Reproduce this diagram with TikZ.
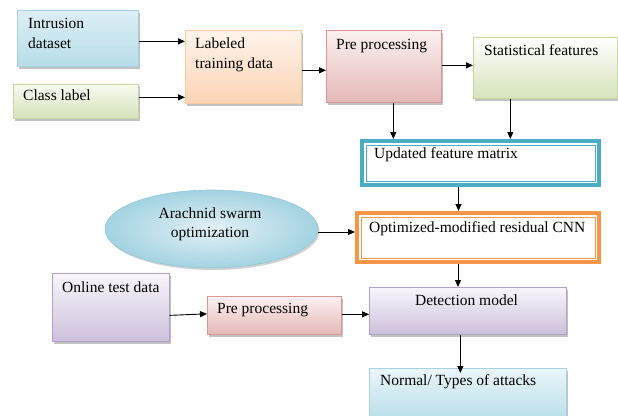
\documentclass[tikz,border=0pt]{standalone}
\usepackage{fontspec}
\setmainfont{Liberation Serif}
\usetikzlibrary{arrows.meta,shadows,shapes.geometric,calc}

% fills and borders
\definecolor{blueT}{HTML}{DDEFF5}
\definecolor{blueB}{HTML}{B6DDE8}
\definecolor{blueL}{HTML}{A5D3E1}
\definecolor{greenT}{HTML}{F7FAF0}
\definecolor{greenB}{HTML}{D6E3BC}
\definecolor{greenL}{HTML}{C4D79E}
\definecolor{peachT}{HTML}{FEF4EC}
\definecolor{peachB}{HTML}{FBD4B4}
\definecolor{peachL}{HTML}{F9C9A0}
\definecolor{roseT}{HTML}{FCF1F1}
\definecolor{roseB}{HTML}{E5B8B7}
\definecolor{roseL}{HTML}{D99694}
\definecolor{lilacT}{HTML}{F8F6FB}
\definecolor{lilacB}{HTML}{CCC0DA}
\definecolor{lilacL}{HTML}{B2A1C7}
\definecolor{tealC}{HTML}{4BACC6}
\definecolor{orangeC}{HTML}{F79646}
\definecolor{ellIn}{HTML}{E3F1F6}
\definecolor{ellOut}{HTML}{A3D3E1}
\definecolor{ellL}{HTML}{93C9D9}

\begin{document}
\begin{tikzpicture}[x=1pt, y=-1pt,
  box/.style={draw, line width=0.7pt, rectangle, inner sep=0pt, anchor=north west,
    drop shadow={shadow xshift=2pt, shadow yshift=-2.5pt, opacity=0.4, fill=black!60}},
  sz/.style 2 args={minimum width=#1pt, minimum height=#2pt},
  framed/.style={draw=#1, line width=4pt, rectangle, inner sep=0pt, anchor=north west, fill=white},
  txt/.style={anchor=base west, inner sep=0pt, font=\fontsize{15.5}{20}\selectfont},
  ctxt/.style={txt, anchor=base},
  arr/.style={line width=0.9pt, -{Triangle[length=7pt,width=6pt]}}
]
\useasboundingbox (0,0) rectangle (618,415);

% ---------- training branch ----------
\node[box, sz={121}{56}, draw=blueL, top color=blueT, bottom color=blueB] (intr) at (17,10) {};
\node[box, sz={125}{34}, draw=greenL, top color=greenT, bottom color=greenB] (cls) at (13,84) {};
\node[box, sz={116}{73}, draw=peachL, top color=peachT, bottom color=peachB] (lab) at (185,30) {};
\node[box, sz={115}{72}, draw=roseL, top color=roseT, bottom color=roseB] (pre) at (326,30) {};
\node[box, sz={144}{61}, draw=greenL, top color=white, bottom color=greenB] (stat) at (473,37) {};

\node[txt] (tintr1) at (28,28) {Intrusion};
\node[txt] (tintr2) at (28,48) {dataset};
\node[txt] (tcls) at (23,100) {Class label};
\node[txt] (tlab1) at (195,48) {Labeled};
\node[txt] (tlab2) at (195,68) {training data};
\node[txt] (tpre) at (336,49) {Pre processing};
\node[txt] (tstat) at (484,55) {Statistical features};

% ---------- double framed boxes ----------
\node[framed=tealC, sz={237}{44}] (upd) at (360,139) {};
\draw[tealC, line width=0.9pt] ([shift={(6pt,-6pt)}]upd.north west) rectangle ([shift={(-6pt,6pt)}]upd.south east);
\node[txt] (tupd) at (374,158) {Updated feature matrix};

\node[framed=orangeC, sz={242}{49}] (opt) at (355,211) {};
\draw[orangeC, line width=0.9pt] ([shift={(6pt,-6pt)}]opt.north west) rectangle ([shift={(-6pt,6pt)}]opt.south east);
\node[txt] (topt) at (369,232) {Optimized-modified residual CNN};

% ---------- optimizer ----------
\node[ellipse, draw=ellL, line width=0.6pt, inner sep=0pt, sz={213}{78},
  inner color=ellIn, outer color=ellOut,
  drop shadow={shadow xshift=1.5pt, shadow yshift=-2pt, opacity=0.3, fill=black!60}] (aso) at (211.5,229) {};
\node[ctxt] (taso1) at (210,218) {Arachnid swarm};
\node[ctxt] (taso2) at (210,237) {optimization};

% ---------- testing branch ----------
\node[box, sz={117}{68}, draw=lilacL, top color=lilacT, bottom color=lilacB] (onl) at (52,273) {};
\node[box, sz={134}{38}, draw=roseL, top color=roseT, bottom color=roseB] (pre2) at (207,296) {};
\node[box, sz={197}{47}, draw=lilacL, top color=lilacT, bottom color=lilacB] (det) at (369,287) {};
\node[box, sz={197}{54}, draw=blueL, top color=blueT!60!white, bottom color=blueB] (norm) at (369,368) {};

\node[txt] (tonl) at (62,292) {Online test data};
\node[txt] (tpre2) at (217,313) {Pre processing};
\node[ctxt] (tdet) at (466.5,305) {Detection model};
\node[txt] (tnorm) at (380,385) {Normal/ Types of attacks};

% ---------- connectors ----------
\coordinate (c1) at ([yshift=-3pt]intr.east);
\draw[arr] (c1) -- (c1 -| lab.west);
\coordinate (c2) at ([yshift=4pt]cls.east);
\draw[arr] (c2) -- (c2 -| lab.west);
\coordinate (c3) at ([yshift=-3.5pt]lab.east);
\draw[arr] (c3) -- (c3 -| pre.west);
\coordinate (c4) at ([yshift=1pt]pre.east);
\draw[arr] (c4) -- (c4 -| stat.west);
\coordinate (c5) at ([xshift=9.5pt]pre.south);
\draw[arr] (c5) -- (c5 |- upd.north);
\coordinate (c6) at ([xshift=-35pt]stat.south);
\draw[arr] (c6) -- (c6 |- upd.north);
\coordinate (c7) at ([xshift=-22pt]upd.south);
\draw[arr] (c7) -- (c7 |- opt.north);
\coordinate (c8) at ([yshift=-3pt]aso.east);
\draw[arr] (c8) -- (c8 -| opt.west);
\coordinate (c9) at ([xshift=-20pt]opt.south);
\draw[arr] (c9) -- (c9 |- det.north);
\coordinate (c10) at ([yshift=-8pt]onl.east);
\coordinate (c10e) at ([yshift=1.5pt]pre2.west);
\draw[arr] (c10) -- (c10e);
\coordinate (c11) at ([yshift=1pt]pre2.east);
\draw[arr] (c11) -- (c11 -| det.west);
\coordinate (c12) at ([xshift=-7.5pt]det.south);
\draw[arr] (c12) -- ([yshift=-5pt]c12 |- norm.north);
\end{tikzpicture}
\end{document}
